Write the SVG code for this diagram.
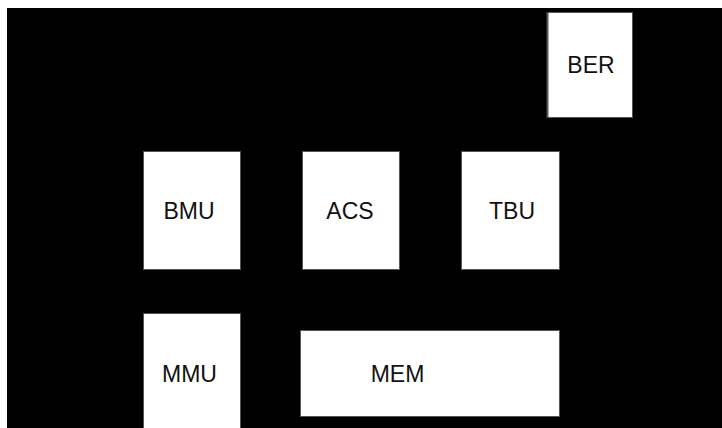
<svg xmlns="http://www.w3.org/2000/svg" width="722" height="428" viewBox="0 0 722 428">
  <style>
    .box { fill: #ffffff; stroke: #555555; stroke-width: 1; }
    .lbl { font-family: "Liberation Sans", Arial, sans-serif; font-size: 23px; fill: #111111; text-anchor: middle; }
  </style>
  <rect x="0" y="0" width="722" height="428" fill="#ffffff"/>
  <rect x="7" y="8" width="715" height="420" fill="#000000"/>
  <g id="connectors"></g>
  <g id="BER">
    <rect class="box" x="547.5" y="12.5" width="85" height="105"/>
    <line x1="547.5" y1="12" x2="547.5" y2="118" stroke="#555555" stroke-width="2"/>
    <text class="lbl" x="591" y="73">BER</text>
  </g>
  <g id="BMU">
    <rect class="box" x="143.5" y="151.5" width="97" height="118"/>
    <text class="lbl" x="189" y="219">BMU</text>
  </g>
  <g id="ACS">
    <rect class="box" x="302.5" y="151.5" width="97" height="118"/>
    <text class="lbl" x="350" y="219">ACS</text>
  </g>
  <g id="TBU">
    <rect class="box" x="461.5" y="151.5" width="98" height="118"/>
    <text class="lbl" x="512" y="219">TBU</text>
  </g>
  <g id="MMU">
    <rect class="box" x="143.5" y="313.5" width="97" height="120"/>
    <text class="lbl" x="189.5" y="382">MMU</text>
  </g>
  <g id="MEM">
    <rect class="box" x="300.5" y="330.5" width="259" height="86"/>
    <text class="lbl" x="397.5" y="382">MEM</text>
  </g>
</svg>
